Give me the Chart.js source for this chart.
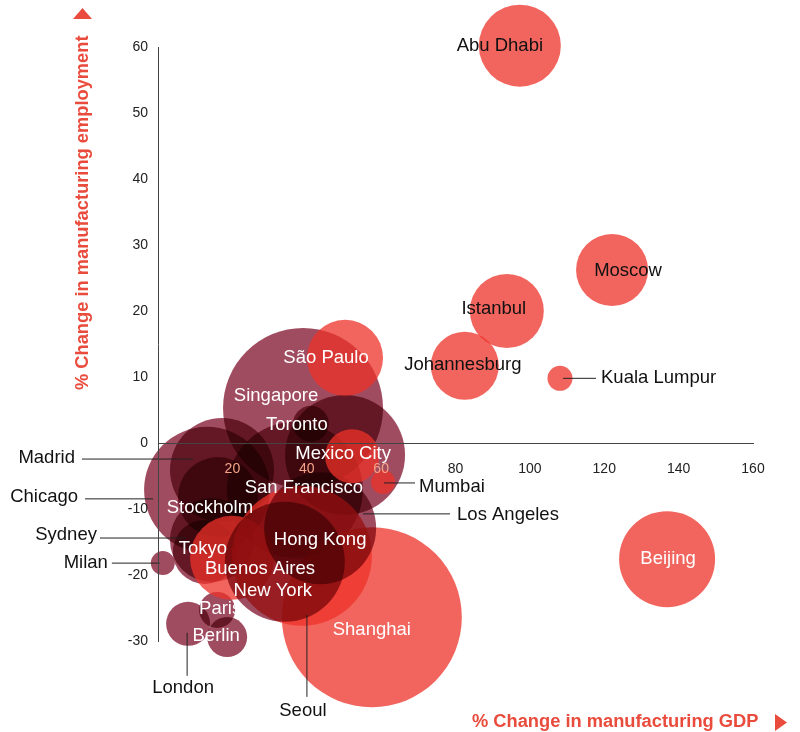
<!DOCTYPE html>
<html>
<head>
<meta charset="utf-8">
<title>Manufacturing GDP vs employment by city</title>
<script src="https://cdn.jsdelivr.net/npm/chart.js@4.4.0/dist/chart.umd.min.js"></script>
<style>
    html, body { margin: 0; padding: 0; background: #fff; }
    #wrap { width: 800px; height: 732px; }
</style>
</head>
<body>
<div id="wrap"><canvas id="cityBubbles" width="800" height="732"></canvas></div>
<script>
// Cities in drawing order (later ones are painted on top)
const cities = [
    'Chicago', 'Madrid', 'Singapore', 'Los Angeles', 'San Francisco', 'Stockholm',
    'Sydney', 'Tokyo', 'Toronto', 'Milan', 'London', 'Paris', 'Berlin',
    'Shanghai', 'Seoul', 'Buenos Aires', 'Hong Kong', 'New York',
    'São Paulo', 'Mexico City', 'Mumbai', 'Abu Dhabi', 'Moscow', 'Istanbul',
    'Johannesburg', 'Kuala Lumpur', 'Beijing'
];

// % change in manufacturing GDP (x)
const gdpChange = [
    13.2, 17.2, 39.0, 50.3, 36.8, 16.1,
    14.5, 12.6, 41.1, 1.3, 8.1, 15.9, 18.6,
    57.5, 38.7, 19.9, 43.6, 34.1,
    50.3, 52.2, 60.5, 97.3, 122.1, 93.8,
    82.5, 108.1, 136.9
];

// % change in manufacturing employment (y)
const employmentChange = [
    -7.1, -4.1, 5.3, -1.8, -7.1, -8.2,
    -14.7, -16.5, 2.9, -18.2, -27.4, -25.3, -29.4,
    -26.4, -17.1, -17.4, -12.9, -18.0,
    12.9, -2.0, -5.9, 60.2, 26.2, 20.0,
    11.7, 9.8, -17.6
];

// bubble size (radius)
const bubbleSize = [
    63, 52, 80, 60, 68, 40,
    42, 32, 18, 12, 22, 18, 20,
    90, 70, 42, 56, 60,
    38, 27, 12, 41, 36, 37,
    34, 12.5, 48
];

const economy = [
    'advanced', 'advanced', 'advanced', 'advanced', 'advanced', 'advanced',
    'advanced', 'advanced', 'advanced', 'advanced', 'advanced', 'advanced', 'advanced',
    'emerging', 'emerging', 'emerging', 'advanced', 'advanced',
    'emerging', 'emerging', 'emerging', 'emerging', 'emerging', 'emerging',
    'emerging', 'emerging', 'emerging'
];

const gdpTicks = [0, 20, 40, 60, 80, 100, 120, 140, 160];
const employmentTicks = [-30, -20, -10, 0, 10, 20, 30, 40, 50, 60];

const FONT = '"Liberation Sans", Helvetica, Arial, sans-serif';
const RED = '#e94b3c';
// advanced cities are multiplied (they darken where they stack), emerging ones are translucent red
const colours = {
    advanced: 'rgb(160, 76, 96)',
    emerging: 'rgba(238, 50, 40, 0.75)'
};
const blend = {
    advanced: 'multiply',
    emerging: 'source-over'
};

// where each city name goes, relative to its bubble centre (px)
const labelPlacement = {
    'Chicago':       { dx: -129, dy: 7, align: 'right', color: '#111', line: [-122, 9, -54, 9] },
    'Madrid':        { dx: -147, dy: -12, align: 'right', color: '#111', line: [-140, -11, -29, -11] },
    'Singapore':     { dx: -27, dy: -12, color: '#fff' },
    'Los Angeles':   { dx: 112, dy: 60, align: 'left', color: '#111', line: [18, 59, 105, 59] },
    'San Francisco': { dx: 9, dy: -2, color: '#fff' },
    'Stockholm':     { dx: -8, dy: 11, color: '#fff' },
    'Sydney':        { dx: -115, dy: -5, align: 'right', color: '#111', line: [-112, -2, -26, -2] },
    'Tokyo':         { dx: -2, dy: -3, color: '#fff' },
    'Toronto':       { dx: -14, dy: 1, color: '#fff' },
    'Milan':         { dx: -55, dy: 0, align: 'right', color: '#111', line: [-51, 0, -3, 0] },
    'London':        { dx: -5, dy: 64, color: '#111', line: [-1, 9, -1, 52] },
    'Paris':         { dx: 3, dy: -1, color: '#fff' },
    'Berlin':        { dx: -11, dy: -1, color: '#fff' },
    'Shanghai':      { dx: 0, dy: 13, color: '#fff' },
    'Seoul':         { dx: 1, dy: 155, color: '#111', line: [5, 59, 5, 141] },
    'Buenos Aires':  { dx: 28, dy: 11, color: '#fff' },
    'Hong Kong':     { dx: 0, dy: 12, color: '#fff' },
    'New York':      { dx: -12, dy: 29, color: '#fff' },
    'São Paulo':     { dx: -19, dy: 0, color: '#fff' },
    'Mexico City':   { dx: -9, dy: -2, color: '#fff' },
    'Mumbai':        { dx: 36, dy: 5, align: 'left', color: '#111', line: [1, 1, 32, 1] },
    'Abu Dhabi':     { dx: -20, dy: 0, color: '#111' },
    'Moscow':        { dx: 16, dy: 1, color: '#111' },
    'Istanbul':      { dx: -13, dy: -2, color: '#111' },
    'Johannesburg':  { dx: -2, dy: -1, color: '#111' },
    'Kuala Lumpur':  { dx: 41, dy: 0, align: 'left', color: '#111', line: [3, 0, 36, 0] },
    'Beijing':       { dx: 1, dy: 0, color: '#fff' }
};

// Blend mode per bubble, then city names, leader lines and axis titles
const annotationPlugin = {
    id: 'cityAnnotations',
    beforeDatasetDraw(chart, args) {
        chart.ctx.globalCompositeOperation = blend[economy[args.index]];
    },
    afterDatasetDraw(chart) {
        chart.ctx.globalCompositeOperation = 'source-over';
    },
    afterDatasetsDraw(chart) {
        const ctx = chart.ctx;
        ctx.save();
        ctx.globalCompositeOperation = 'source-over';
        ctx.font = '18.5px ' + FONT;
        ctx.textBaseline = 'middle';
        cities.forEach((city, i) => {
            const p = labelPlacement[city];
            const pt = chart.getDatasetMeta(i).data[0];
            if (p.line) {
                ctx.strokeStyle = '#222';
                ctx.lineWidth = 1;
                ctx.beginPath();
                ctx.moveTo(pt.x + p.line[0], pt.y + p.line[1]);
                ctx.lineTo(pt.x + p.line[2], pt.y + p.line[3]);
                ctx.stroke();
            }
            ctx.fillStyle = p.color;
            ctx.textAlign = p.align || 'center';
            ctx.fillText(city, pt.x + p.dx, pt.y + p.dy);
        });
        ctx.restore();
    },
    afterDraw(chart) {
        const ctx = chart.ctx;
        ctx.save();
        ctx.fillStyle = RED;
        ctx.font = 'bold 18.3px ' + FONT;
        ctx.textBaseline = 'middle';

        // x title
        ctx.textAlign = 'left';
        ctx.fillText('% Change in manufacturing GDP', 472, 722);
        ctx.beginPath();
        ctx.moveTo(775, 714);
        ctx.lineTo(787, 722.5);
        ctx.lineTo(775, 731);
        ctx.closePath();
        ctx.fill();

        // y title
        ctx.save();
        ctx.translate(83, 390);
        ctx.rotate(-Math.PI / 2);
        ctx.fillText('% Change in manufacturing employment', 0, 0);
        ctx.restore();
        ctx.beginPath();
        ctx.moveTo(73, 19);
        ctx.lineTo(82.5, 8);
        ctx.lineTo(92, 19);
        ctx.closePath();
        ctx.fill();
        ctx.restore();
    }
};

// one dataset per city so each bubble can get its own blend mode
const chartData = {
    datasets: cities.map((city, i) => ({
        label: city,
        data: [{ x: gdpChange[i], y: employmentChange[i], r: bubbleSize[i] }],
        backgroundColor: colours[economy[i]],
        borderWidth: 0,
        hoverBorderWidth: 0,
        clip: false,
        order: cities.length - i
    }))
};

new Chart(document.getElementById('cityBubbles'), {
    type: 'bubble',
    data: chartData,
    options: {
        responsive: false,
        animation: false,
        events: [],
        layout: {
            autoPadding: false,
            padding: { left: 0, right: 47, top: 47, bottom: 91 }
        },
        plugins: {
            legend: { display: false },
            tooltip: { enabled: false }
        },
        scales: {
            x: {
                type: 'linear',
                min: 0,
                max: 160,
                position: { y: 0 },
                grid: { display: false, drawTicks: false },
                border: { display: true, color: '#444', width: 1, z: 1 },
                afterBuildTicks: scale => { scale.ticks = gdpTicks.map(v => ({ value: v })); },
                afterFit: scale => { scale.height = 0; },
                ticks: {
                    z: 1,
                    padding: 18,
                    font: { size: 14, family: FONT },
                    color: ctx => (ctx.tick && ctx.tick.value <= 60) ? '#f3a488' : '#222',
                    callback: v => v === 0 ? '' : v
                }
            },
            y: {
                type: 'linear',
                min: -30,
                max: 60,
                position: 'left',
                grid: { display: false, drawTicks: false },
                border: { display: true, color: '#444', width: 1, z: 1 },
                afterBuildTicks: scale => { scale.ticks = employmentTicks.map(v => ({ value: v })); },
                afterFit: scale => { scale.width = 158; },
                ticks: {
                    z: 1,
                    padding: 10,
                    font: { size: 14, family: FONT },
                    color: '#222'
                }
            }
        }
    },
    plugins: [annotationPlugin]
});
</script>
</body>
</html>
